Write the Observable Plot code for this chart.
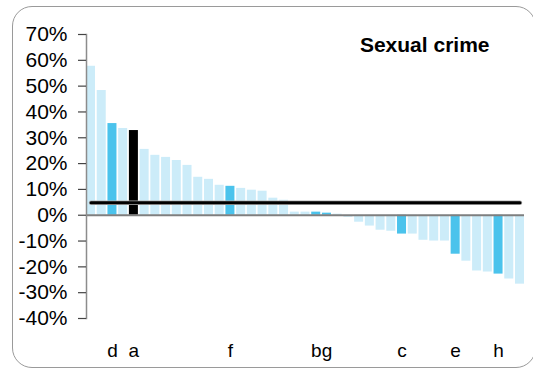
<!DOCTYPE html>
<html>
<head>
<meta charset="utf-8">
<script src="https://cdn.jsdelivr.net/npm/d3@7"></script>
<script src="https://cdn.jsdelivr.net/npm/@observablehq/plot@0.6"></script>
<style>
  html, body { margin: 0; padding: 0; background: #fff; overflow: hidden; }
  #wrap { position: relative; width: 533px; height: 371px; overflow: hidden; }
  #border { position: absolute; left: 12px; top: 6px; width: 524px; height: 362px;
            border: 1.5px solid #9a9a9a; border-radius: 20px; box-sizing: border-box; pointer-events: none; }
  #chart { position: absolute; left: 0; top: 0; }
</style>
</head>
<body>
<div id="wrap"><div id="chart"></div><div id="border"></div></div>
<script>
// Categories (ranked units), left to right
const categories = ["r01","r02","r03","r04","r05","r06","r07","r08","r09","r10",
                    "r11","r12","r13","r14","r15","r16","r17","r18","r19","r20",
                    "r21","r22","r23","r24","r25","r26","r27","r28","r29","r30",
                    "r31","r32","r33","r34","r35","r36","r37","r38","r39","r40","r41"];
// Percentage change per category
const values = [57.7, 48.3, 35.5, 33.6, 32.8, 25.5, 23.2, 22.4, 21.2, 19.3,
                14.7, 13.9, 11.6, 11.2, 10.4, 9.7, 9.3, 6.6, 5.8, 1.2,
                1.2, 1.2, 0.8, 0.4, -0.8, -2.7, -4.2, -5.8, -6.2, -7.3,
                -7.3, -9.7, -10.0, -10.0, -15.1, -17.8, -21.6, -22.0, -22.8, -24.7, -26.7];
// Highlighted categories
const highlighted = ["r03","r14","r22","r23","r30","r35","r39"];
const focus = ["r05"];
// Labelled categories and their tick labels
const labelPositions = ["r03","r05","r14","r22","r23","r30","r35","r39"];
const labelTexts = ["d","a","f","b","g","c","e","h"];
// Average reference line
const averageChange = 4.8;
// Y tick values
const yTicks = [-40,-30,-20,-10,0,10,20,30,40,50,60,70];
const title = "Sexual crime";

const data = categories.map((c, i) => ({c, v: values[i]}));
const avgData = categories.map(c => ({c, v: averageChange}));
const colorOf = c => focus.includes(c) ? "#000000" : highlighted.includes(c) ? "#4bc3ec" : "#ccecf9";
const labelOf = c => { const i = labelPositions.indexOf(c); return i >= 0 ? labelTexts[i] : ""; };

const font = "'Liberation Sans', Arial, sans-serif";

const chart = Plot.plot({
  width: 533, height: 371,
  marginLeft: 86, marginRight: 9, marginTop: 34, marginBottom: 53,
  style: {fontFamily: font, color: "#000", background: "transparent", overflow: "visible"},
  x: {domain: categories, paddingInner: 0.16, paddingOuter: 0, round: false, axis: null},
  y: {domain: [-40, 70], axis: null},
  color: {type: "identity"},
  marks: [
    Plot.barY(data, {x: "c", y: "v", fill: d => colorOf(d.c)}),
    Plot.ruleY([0], {stroke: "#7f7f7f", strokeWidth: 2}),
    Plot.frame({anchor: "left", stroke: "#8c8c8c", strokeWidth: 1.5}),
    Plot.axisY({ticks: yTicks, tickFormat: d => d + "%", tickSize: 8, tickPadding: 11,
                fontSize: 21, stroke: "#444", strokeWidth: 1.2, label: null}),
    Plot.axisX({ticks: labelPositions, tickFormat: labelOf, tickSize: 0, tickPadding: 25,
                fontSize: 19, anchor: "bottom", label: null}),
    Plot.lineY(avgData, {x: "c", y: "v", stroke: "#b0b0b0", strokeWidth: 4.5}),
    Plot.lineY(avgData, {x: "c", y: "v", stroke: "#000", strokeWidth: 3}),
    Plot.text([title], {frameAnchor: "top-right", textAnchor: "end", lineAnchor: "bottom",
                        dx: -35, dy: 17, fontSize: 21, fontWeight: "bold", text: d => d})
  ]
});
document.getElementById("chart").appendChild(chart);
</script>
</body>
</html>
